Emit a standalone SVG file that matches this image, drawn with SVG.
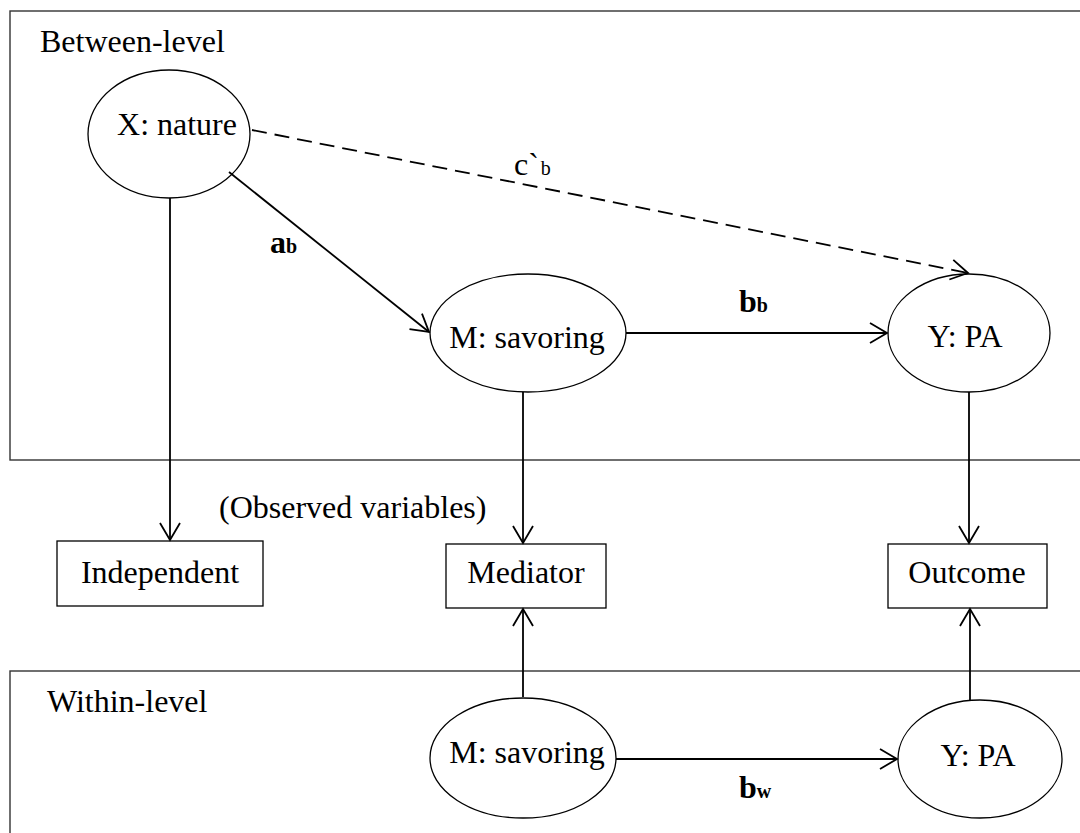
<svg xmlns="http://www.w3.org/2000/svg" width="1080" height="833" viewBox="0 0 1080 833">
<defs>
<marker id="arr" markerUnits="userSpaceOnUse" markerWidth="24" markerHeight="24" viewBox="-20 -12 24 24" refX="0" refY="0" orient="auto">
<path d="M-17,-10 L0,0 L-17,10" fill="none" stroke="#000" stroke-width="1.8"/>
</marker>
</defs>
<style>
text{font-family:"Liberation Serif","Times New Roman",serif;font-size:32px;fill:#000}
.lvl{fill:none;stroke:#333;stroke-width:1.4}
.node{fill:#fff;stroke:#000;stroke-width:1.3}
.c{text-anchor:middle}
.edge{fill:none;stroke:#000;stroke-width:1.8;marker-end:url(#arr)}
.dash{stroke-dasharray:15 8}
.b{font-weight:bold}
.sub{font-size:20px}
</style>
<g id="between-level">
<rect class="lvl" x="10" y="11" width="1100" height="449"/>
<text x="40" y="52">Between-level</text>
</g>
<g id="within-level">
<rect class="lvl" x="10" y="671" width="1100" height="200"/>
<text x="47" y="712">Within-level</text>
</g>
<g id="x-nature">
<ellipse class="node" cx="169" cy="134" rx="81" ry="64"/>
<text class="c" x="177" y="135">X: nature</text>
</g>
<g id="m-savoring-between">
<ellipse class="node" cx="528" cy="333" rx="98" ry="59"/>
<text class="c" x="527" y="348">M: savoring</text>
</g>
<g id="y-pa-between">
<ellipse class="node" cx="969" cy="333" rx="81" ry="59"/>
<text class="c" x="965" y="347">Y: PA</text>
</g>
<g id="independent">
<rect class="node" x="57" y="541" width="206" height="65"/>
<text class="c" x="160" y="583">Independent</text>
</g>
<g id="mediator">
<rect class="node" x="446" y="544" width="160" height="64"/>
<text class="c" x="526" y="583">Mediator</text>
</g>
<g id="outcome">
<rect class="node" x="888" y="544" width="159" height="64"/>
<text class="c" x="967" y="583">Outcome</text>
</g>
<g id="m-savoring-within">
<ellipse class="node" cx="523" cy="758" rx="93" ry="60"/>
<text class="c" x="527" y="763">M: savoring</text>
</g>
<g id="y-pa-within">
<ellipse class="node" cx="980" cy="759" rx="82" ry="59"/>
<text class="c" x="978" y="766">Y: PA</text>
</g>
<g id="observed-label">
<text x="219" y="518">(Observed variables)</text>
</g>
<g id="connectors">
<path class="edge dash" d="M252,130 L968,273"/>
<path class="edge" d="M229,172 L429,332"/>
<path class="edge" d="M626,333 L887,333"/>
<path class="edge" d="M170,198 L170,540"/>
<path class="edge" d="M523,392 L523,543"/>
<path class="edge" d="M969,392 L969,543"/>
<path class="edge" d="M523,697 L523,609"/>
<path class="edge" d="M970,700 L970,609"/>
<path class="edge" d="M616,759 L897,759"/>
<text x="514" y="175">c`<tspan class="sub" dx="2">b</tspan></text>
<text class="b" x="270" y="253">a<tspan class="sub">b</tspan></text>
<text class="b" x="739" y="312">b<tspan class="sub">b</tspan></text>
<text class="b" x="739" y="798">b<tspan class="sub">w</tspan></text>
</g>
</svg>
